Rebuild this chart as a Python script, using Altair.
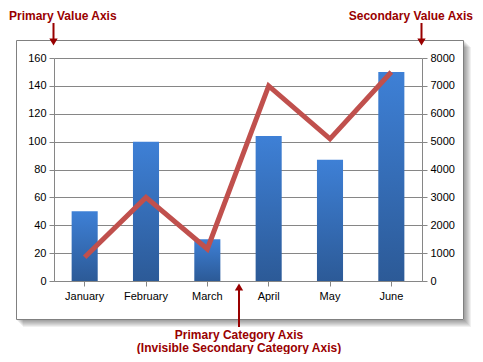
import altair as alt
import pandas as pd

months = ["January", "February", "March", "April", "May", "June"]
bar_values = [50, 100, 30, 104, 87, 150]
line_values = [850, 3000, 1150, 7000, 5100, 7500]
left_ticks = list(range(0, 161, 20))
right_ticks = list(range(0, 8001, 1000))

df = pd.DataFrame({"month": months, "primary": bar_values, "secondary": line_values})

# page coordinates of plot-area origin (top-left)
OX, OY = 54, 58
W, H = 368, 223


def px(x):
    return x - OX


def py(y):
    return y - OY


one = pd.DataFrame({"d": [0]})
RED = "#990000"
FONT = "Liberation Sans"
GREY = "#868686"

layers = []

# shadow strips (outside the box only)
for k in range(1, 8):
    layers.append(
        alt.Chart(one).mark_rect(fill="#000000", opacity=0.06).encode(
            x=alt.value(px(464)), x2=alt.value(px(464 + k)),
            y=alt.value(py(40 + k)), y2=alt.value(py(320 + k)),
        )
    )
    layers.append(
        alt.Chart(one).mark_rect(fill="#000000", opacity=0.06).encode(
            x=alt.value(px(16 + k)), x2=alt.value(px(464)),
            y=alt.value(py(320)), y2=alt.value(py(320 + k)),
        )
    )
# box outline
layers.append(
    alt.Chart(one).mark_rect(fill=None, stroke="#808080", strokeWidth=1).encode(
        x=alt.value(px(16.5)), x2=alt.value(px(463.5)),
        y=alt.value(py(40.5)), y2=alt.value(py(319.5)),
    )
)

xenc = alt.X(
    "month:N", sort=months, title=None,
    scale=alt.Scale(paddingInner=0.575, paddingOuter=0.2875),
    axis=alt.Axis(labelAngle=0, tickSize=5, labelPadding=4, bandPosition=0.5,
                  domainColor=GREY, tickColor=GREY, labelColor="black",
                  labelFont=FONT, labelFontSize=11, grid=False),
)

bars = alt.Chart(df).mark_bar(
    color=alt.Gradient(
        gradient="linear", x1=0, x2=0, y1=0, y2=1,
        stops=[alt.GradientStop(color="#3E80D6", offset=0),
               alt.GradientStop(color="#2C5A97", offset=1)],
    )
).encode(
    x=xenc,
    y=alt.Y("primary:Q", title=None,
            scale=alt.Scale(domain=[0, 160], nice=False),
            axis=alt.Axis(orient="left", values=left_ticks, tickSize=5, labelPadding=3,
                          format="d",
                          domainColor=GREY, tickColor=GREY, gridColor=GREY, grid=True,
                          gridOpacity=1, labelColor="black", labelFont=FONT,
                          labelFontSize=11)),
)

line = alt.Chart(df).mark_line(color="#C0504D", strokeWidth=5).encode(
    x=alt.X("month:N", sort=months),
    y=alt.Y("secondary:Q", title=None,
            scale=alt.Scale(domain=[0, 8000], nice=False),
            axis=alt.Axis(orient="right", values=right_ticks, tickSize=5, labelPadding=3,
                          format="d",
                          domainColor=GREY, tickColor=GREY, grid=False,
                          labelColor="black", labelFont=FONT, labelFontSize=11)),
)

data_layer = alt.layer(bars, line).resolve_scale(y="independent")

ann = []
ann.append(alt.Chart(one).mark_text(text="Primary Value Axis", align="left", baseline="middle",
                                    font=FONT, fontSize=12, fontWeight="bold", color=RED).encode(
    x=alt.value(px(9)), y=alt.value(py(16))))
ann.append(alt.Chart(one).mark_text(text="Secondary Value Axis", align="right", baseline="middle",
                                    font=FONT, fontSize=12, fontWeight="bold", color=RED).encode(
    x=alt.value(px(473)), y=alt.value(py(16))))
ann.append(alt.Chart(one).mark_text(text="Primary Category Axis", align="center", baseline="middle",
                                    font=FONT, fontSize=12, fontWeight="bold", color=RED).encode(
    x=alt.value(px(239)), y=alt.value(py(335))))
ann.append(alt.Chart(one).mark_text(text="(Invisible Secondary Category Axis)", align="center",
                                    baseline="middle", font=FONT, fontSize=12, fontWeight="bold",
                                    color=RED).encode(
    x=alt.value(px(239)), y=alt.value(py(348))))
# arrows
for ax in [53.5, 421.5]:
    ann.append(alt.Chart(one).mark_rule(color=RED, strokeWidth=2).encode(
        x=alt.value(px(ax)), y=alt.value(py(23)), y2=alt.value(py(40))))
    ann.append(alt.Chart(one).mark_point(shape="triangle-down", filled=True, size=70,
                                         color=RED, opacity=1).encode(
        x=alt.value(px(ax)), y=alt.value(py(42))))
ann.append(alt.Chart(one).mark_rule(color=RED, strokeWidth=2).encode(
    x=alt.value(px(239)), y=alt.value(py(289)), y2=alt.value(py(327))))
ann.append(alt.Chart(one).mark_point(shape="triangle-up", filled=True, size=70,
                                     color=RED, opacity=1).encode(
    x=alt.value(px(239)), y=alt.value(py(287))))

chart = alt.layer(*layers, data_layer, *ann).properties(
    width=W, height=H,
    autosize=alt.AutoSizeParams(type="none"),
    padding={"left": OX - 8, "top": OY - 8, "right": 467 - (OX - 8) - W, "bottom": 346 - (OY - 8) - H},
    background="white",
).configure_view(stroke=None)

chart.save("out.html", embed_options={"renderer": "svg", "actions": False})
